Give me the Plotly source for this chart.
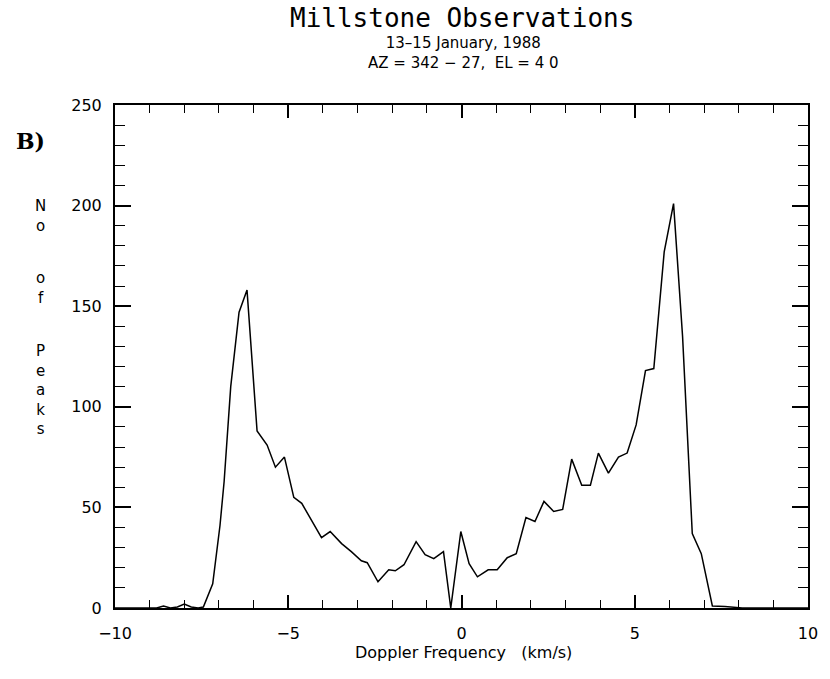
import plotly.graph_objects as go

# Doppler velocity (km/s) and number of peaks
doppler = [-10.0, -8.8, -8.6, -8.4, -8.2, -8.0, -7.8, -7.6, -7.45, -7.18, -6.97, -6.85,
           -6.66, -6.42, -6.19, -5.90, -5.61, -5.37, -5.11, -4.84, -4.61, -4.04, -3.79,
           -3.46, -3.18, -2.89, -2.72, -2.41, -2.10, -1.91, -1.66, -1.31, -1.05, -0.80,
           -0.52, -0.31, -0.02, 0.22, 0.46, 0.77, 1.03, 1.32, 1.58, 1.86, 2.12, 2.38,
           2.66, 2.92, 3.18, 3.47, 3.72, 3.95, 4.24, 4.53, 4.78, 5.04, 5.31, 5.55, 5.85,
           6.12, 6.38, 6.66, 6.92, 7.24, 7.6, 7.9, 8.1, 10.0]
peaks = [0, 0, 1, 0, 0.5, 2, 0.5, 0, 0.5, 12, 41, 63,
         110, 147, 158, 88, 81, 70, 75, 55, 52, 35, 38,
         32, 28, 23.5, 22.5, 13, 19, 18.5, 21.5, 33, 26.5, 24.5,
         28, 0, 38, 22, 15.5, 19, 19, 25, 27, 45, 43, 53,
         48, 49, 74, 61, 61, 77, 67, 75, 77, 91, 118, 119, 177,
         201, 135, 37, 27, 1, 0.8, 0.5, 0, 0]

x_ticks = [-10, -5, 0, 5, 10]
y_ticks = [0, 50, 100, 150, 200, 250]

title_text = "Millstone Observations"
subtitle_1 = "13\u201315 January, 1988"
subtitle_2 = "AZ = 342 \u2212 27,  EL = 4 0"
x_title = "Doppler Frequency   (km/s)"
panel_label = "B)"
y_title_words = ["No", "of", "Peaks"]

fnt = "DejaVu Sans"

fig = go.Figure()
fig.add_trace(go.Scatter(x=doppler, y=peaks, mode="lines",
                         line=dict(color="black", width=1.5), showlegend=False,
                         hoverinfo="skip"))

axis_common = dict(showgrid=False, zeroline=False, showline=True, linecolor="black",
                   linewidth=2, mirror="ticks", ticks="inside", tickcolor="black",
                   tickwidth=1.5, tickfont=dict(family=fnt, size=16, color="black"))

fig.update_xaxes(range=[-10, 10], tickvals=x_ticks, ticklen=13, ticklabelstandoff=10,
                 minor=dict(dtick=1, ticks="inside", ticklen=8, tickcolor="black", tickwidth=1.2),
                 **axis_common)
fig.update_yaxes(range=[0, 250], tickvals=y_ticks, ticklen=16, ticklabelstandoff=8,
                 minor=dict(dtick=10, ticks="inside", ticklen=10, tickcolor="black", tickwidth=1.2),
                 **axis_common)

L, R, T, B = 115, 17, 105, 71
fig.update_layout(
    width=830, height=679,
    margin=dict(l=L, r=R, t=T, b=B),
    plot_bgcolor="white", paper_bgcolor="white",
)

W, H = 830 - L - R, 679 - T - B


def add_abs(text, px, py, size, family=fnt, bold=False, xanchor="center", align="center"):
    fig.add_annotation(text=("<b>%s</b>" % text) if bold else text,
                       x=(px - L) / W, y=1 - (py - T) / H, xref="paper", yref="paper",
                       xanchor=xanchor, yanchor="middle", showarrow=False, align=align,
                       font=dict(family=family, size=size, color="black"))


add_abs(title_text, 464, 18, 26, family="DejaVu Sans Mono")
add_abs(subtitle_1 + "<br>" + subtitle_2, 466, 53, 15)
add_abs(x_title, 466, 652, 16)
add_abs(panel_label, 30, 141, 22, family="DejaVu Serif", bold=True)
add_abs("<br>".join(y_title_words[0]), 40, 216, 15)
add_abs("<br>".join(y_title_words[1]), 40, 288, 15)
add_abs("<br>".join(y_title_words[2]), 40, 390, 15)

fig.write_html("out.html")
